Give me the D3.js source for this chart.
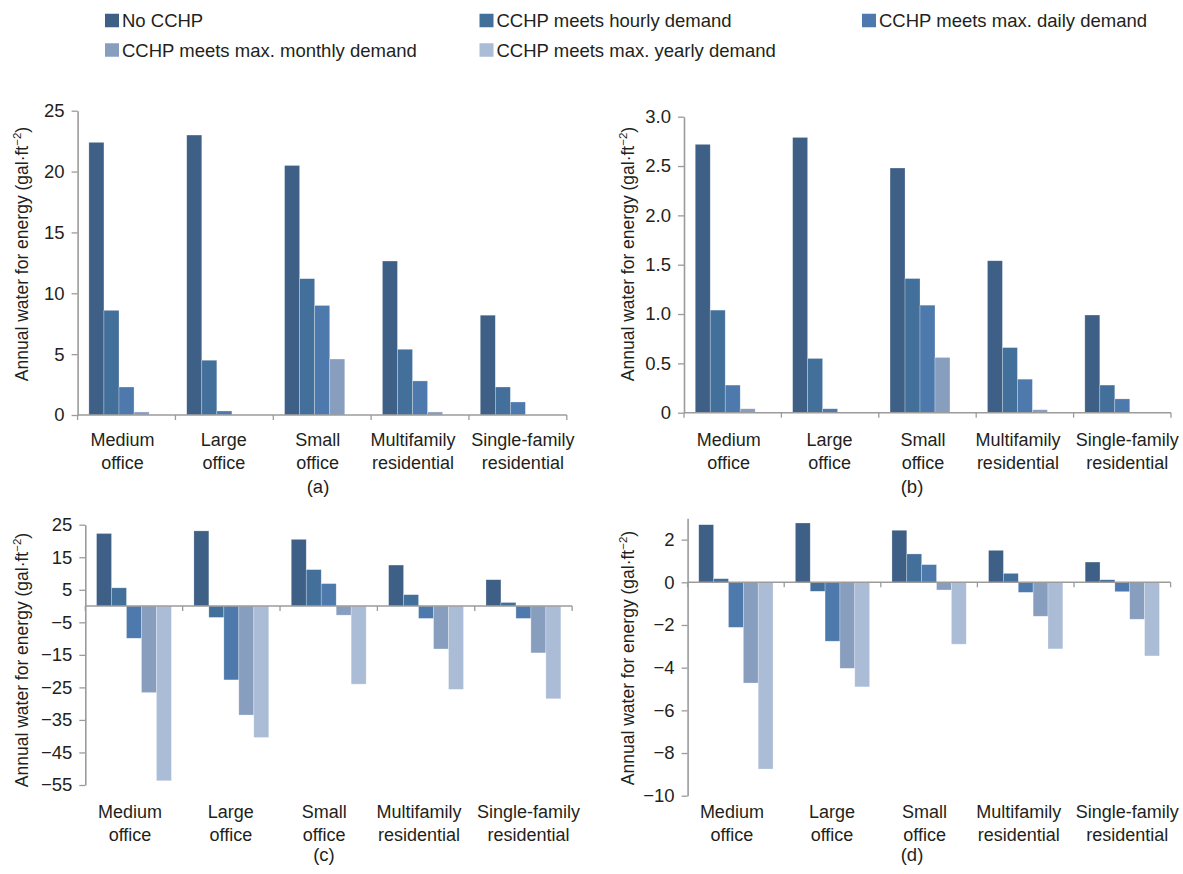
<!DOCTYPE html>
<html>
<head>
<meta charset="utf-8">
<script src="https://cdn.jsdelivr.net/npm/d3@7"></script>
<style>
  html, body { margin: 0; padding: 0; background: #fff; }
  svg { display: block; font-family: "Liberation Sans", Arial, Helvetica, sans-serif; }
  .tick text { fill: #231f20; }
</style>
</head>
<body>
<svg id="chart" width="1183" height="874"></svg>
<script>
// Building types (two-line axis labels)
const categories = ["Medium office", "Large office", "Small office", "Multifamily residential", "Single-family residential"];
const categoryLines = [["Medium", "office"], ["Large", "office"], ["Small", "office"], ["Multifamily", "residential"], ["Single-family", "residential"]];

// Scenarios
const seriesNames = [
  "No CCHP",
  "CCHP meets hourly demand",
  "CCHP meets max. daily demand",
  "CCHP meets max. monthly demand",
  "CCHP meets max. yearly demand"
];
const seriesColors = ["#3e5f86", "#436f9b", "#4e79ac", "#889ebf", "#abbcd6"];

// Annual water for energy per building, one row per category, one value per scenario
const valuesA = [
  [22.4, 8.6, 2.3, 0.25, 0],
  [23.0, 4.5, 0.33, 0, 0],
  [20.5, 11.2, 9.0, 4.6, 0],
  [12.65, 5.4, 2.8, 0.25, 0],
  [8.2, 2.3, 1.07, 0, 0]
];
const valuesB = [
  [2.72, 1.04, 0.28, 0.04, 0],
  [2.79, 0.55, 0.04, 0, 0],
  [2.48, 1.36, 1.09, 0.56, 0],
  [1.54, 0.66, 0.34, 0.03, 0],
  [0.99, 0.28, 0.14, 0, 0]
];
const valuesC = [
  [22.3, 5.6, -9.9, -26.6, -53.7],
  [23.1, -3.5, -22.7, -33.5, -40.4],
  [20.5, 11.2, 6.9, -2.8, -24.0],
  [12.6, 3.5, -3.8, -13.2, -25.6],
  [8.1, 1.1, -3.8, -14.4, -28.5]
];
const valuesD = [
  [2.70, 0.17, -2.11, -4.72, -8.75],
  [2.78, -0.42, -2.76, -4.03, -4.90],
  [2.44, 1.33, 0.83, -0.36, -2.90],
  [1.50, 0.42, -0.47, -1.59, -3.12],
  [0.95, 0.12, -0.44, -1.73, -3.45]
];

// Tick values for each panel's value axis
const ticksA = [0, 5, 10, 15, 20, 25];
const ticksB = [0, 0.5, 1.0, 1.5, 2.0, 2.5, 3.0];
const ticksC = [25, 15, 5, -5, -15, -25, -35, -45, -55];
const ticksD = [2, 0, -2, -4, -6, -8, -10];

const captions = ["(a)", "(b)", "(c)", "(d)"];

const svg = d3.select("#chart");
const axisColor = "#9b9b9b";
const textColor = "#231f20";
const fontSize = 18.5;
const labelFontSize = 18;
// Horizontal nudges for the category labels so neighbouring labels don't touch
const labelShift = [-4, -0.5, -4.5, -7, 5];

// Panel geometry
const panels = [
  { values: valuesA, ticks: ticksA, domain: [0, 25], x0: 77.6, x1: 566.8, yBottom: 415, yTop: 110.7,
    fmt: d3.format("d"), titleX: 22, titleY: 254, labelY: 446, captionX: 318, captionY: 493, caption: captions[0] },
  { values: valuesB, ticks: ticksB, domain: [0, 3], x0: 684, x1: 1171, yBottom: 412.7, yTop: 116.7,
    fmt: d => d === 0 ? "0" : d.toFixed(1), titleX: 628, titleY: 254, labelY: 446, captionX: 912, captionY: 493, caption: captions[1] },
  { values: valuesC, ticks: ticksC, domain: [-55, 25], x0: 85.3, x1: 572.1, yBottom: 785, yTop: 524.7,
    fmt: d3.format("d"), titleX: 22, titleY: 660, labelY: 818, captionX: 324, captionY: 861, caption: captions[2] },
  { values: valuesD, ticks: ticksD, domain: [-10, 3], x0: 687.6, x1: 1170.6, yBottom: 795.7, yTop: 518.3,
    fmt: d3.format("d"), titleX: 628, titleY: 658, labelY: 818, captionX: 912, captionY: 861, caption: captions[3] }
];

panels.forEach(p => {
  const g = svg.append("g");
  const x = d3.scaleBand().domain(categories).range([p.x0, p.x1]).padding(0);
  const xs = d3.scaleBand().domain(seriesNames).range([0, x.bandwidth()]).paddingInner(0).paddingOuter(0.75);
  const y = d3.scaleLinear().domain(p.domain).range([p.yBottom, p.yTop]);

  // Bars
  categories.forEach((c, ci) => {
    g.selectAll(null)
      .data(p.values[ci].map((v, si) => ({ v, si })).filter(d => d.v !== 0))
      .join("rect")
      .attr("x", d => x(c) + xs(seriesNames[d.si]))
      .attr("width", xs.bandwidth())
      .attr("y", d => y(Math.max(0, d.v)))
      .attr("height", d => Math.abs(y(d.v) - y(0)))
      .attr("fill", d => seriesColors[d.si])
      .attr("stroke", "rgba(255,255,255,0.45)")
      .attr("stroke-width", 0.6);
  });

  // Value axis
  const yAxis = g.append("g")
    .attr("transform", `translate(${p.x0},0)`)
    .call(d3.axisLeft(y).tickValues(p.ticks).tickFormat(p.fmt).tickSize(6).tickPadding(7).tickSizeOuter(0));
  yAxis.select(".domain").attr("stroke", axisColor).attr("stroke-width", 1.6);
  yAxis.selectAll(".tick line").attr("stroke", axisColor).attr("stroke-width", 1.3);
  yAxis.selectAll(".tick text").attr("font-size", fontSize).attr("fill", textColor)
    .attr("font-family", "Liberation Sans, Arial, sans-serif");

  // Category axis along zero, with ticks at band boundaries
  const y0 = y(0);
  g.append("line")
    .attr("x1", p.x0).attr("x2", p.x1).attr("y1", y0).attr("y2", y0)
    .attr("stroke", axisColor).attr("stroke-width", 1.6);
  const bounds = categories.map(c => x(c)).concat([p.x1]);
  g.selectAll(null).data(bounds).join("line")
    .attr("x1", d => d).attr("x2", d => d)
    .attr("y1", y0).attr("y2", y0 + 5)
    .attr("stroke", axisColor).attr("stroke-width", 1.3);

  // Category labels
  categories.forEach((c, ci) => {
    const cx = x(c) + x.bandwidth() / 2 + labelShift[ci];
    const t = g.append("text")
      .attr("x", cx)
      .attr("y", p.labelY)
      .attr("text-anchor", "middle")
      .attr("font-size", labelFontSize)
      .attr("fill", textColor);
    categoryLines[ci].forEach((line, li) => {
      t.append("tspan").attr("x", cx).attr("dy", li === 0 ? 0 : 22.5).text(line);
    });
  });

  // Axis title
  const title = g.append("text")
    .attr("transform", `translate(${p.titleX + 6},${p.titleY}) rotate(-90)`)
    .attr("text-anchor", "middle")
    .attr("font-size", 17.5)
    .attr("fill", textColor);
  title.append("tspan").text("Annual water for energy (gal·ft");
  title.append("tspan").attr("font-size", 11.5).attr("dy", -7).text("−2");
  title.append("tspan").attr("dy", 7).text(")");

  // Panel caption
  g.append("text")
    .attr("x", p.captionX).attr("y", p.captionY)
    .attr("text-anchor", "middle")
    .attr("font-size", fontSize)
    .attr("fill", textColor)
    .text(p.caption);
});

// Legend
const legendPos = [
  { x: 105, y: 20.5 }, { x: 479.5, y: 20.5 }, { x: 862, y: 20.5 },
  { x: 105, y: 50 }, { x: 479.5, y: 50 }
];
const legend = svg.append("g");
seriesNames.forEach((name, i) => {
  const pos = legendPos[i];
  legend.append("rect")
    .attr("x", pos.x).attr("y", pos.y - 6.75)
    .attr("width", 14).attr("height", 13.5)
    .attr("fill", seriesColors[i]);
  legend.append("text")
    .attr("x", pos.x + 17).attr("y", pos.y + 6.5)
    .attr("font-size", fontSize)
    .attr("fill", textColor)
    .text(name);
});
</script>
</body>
</html>
